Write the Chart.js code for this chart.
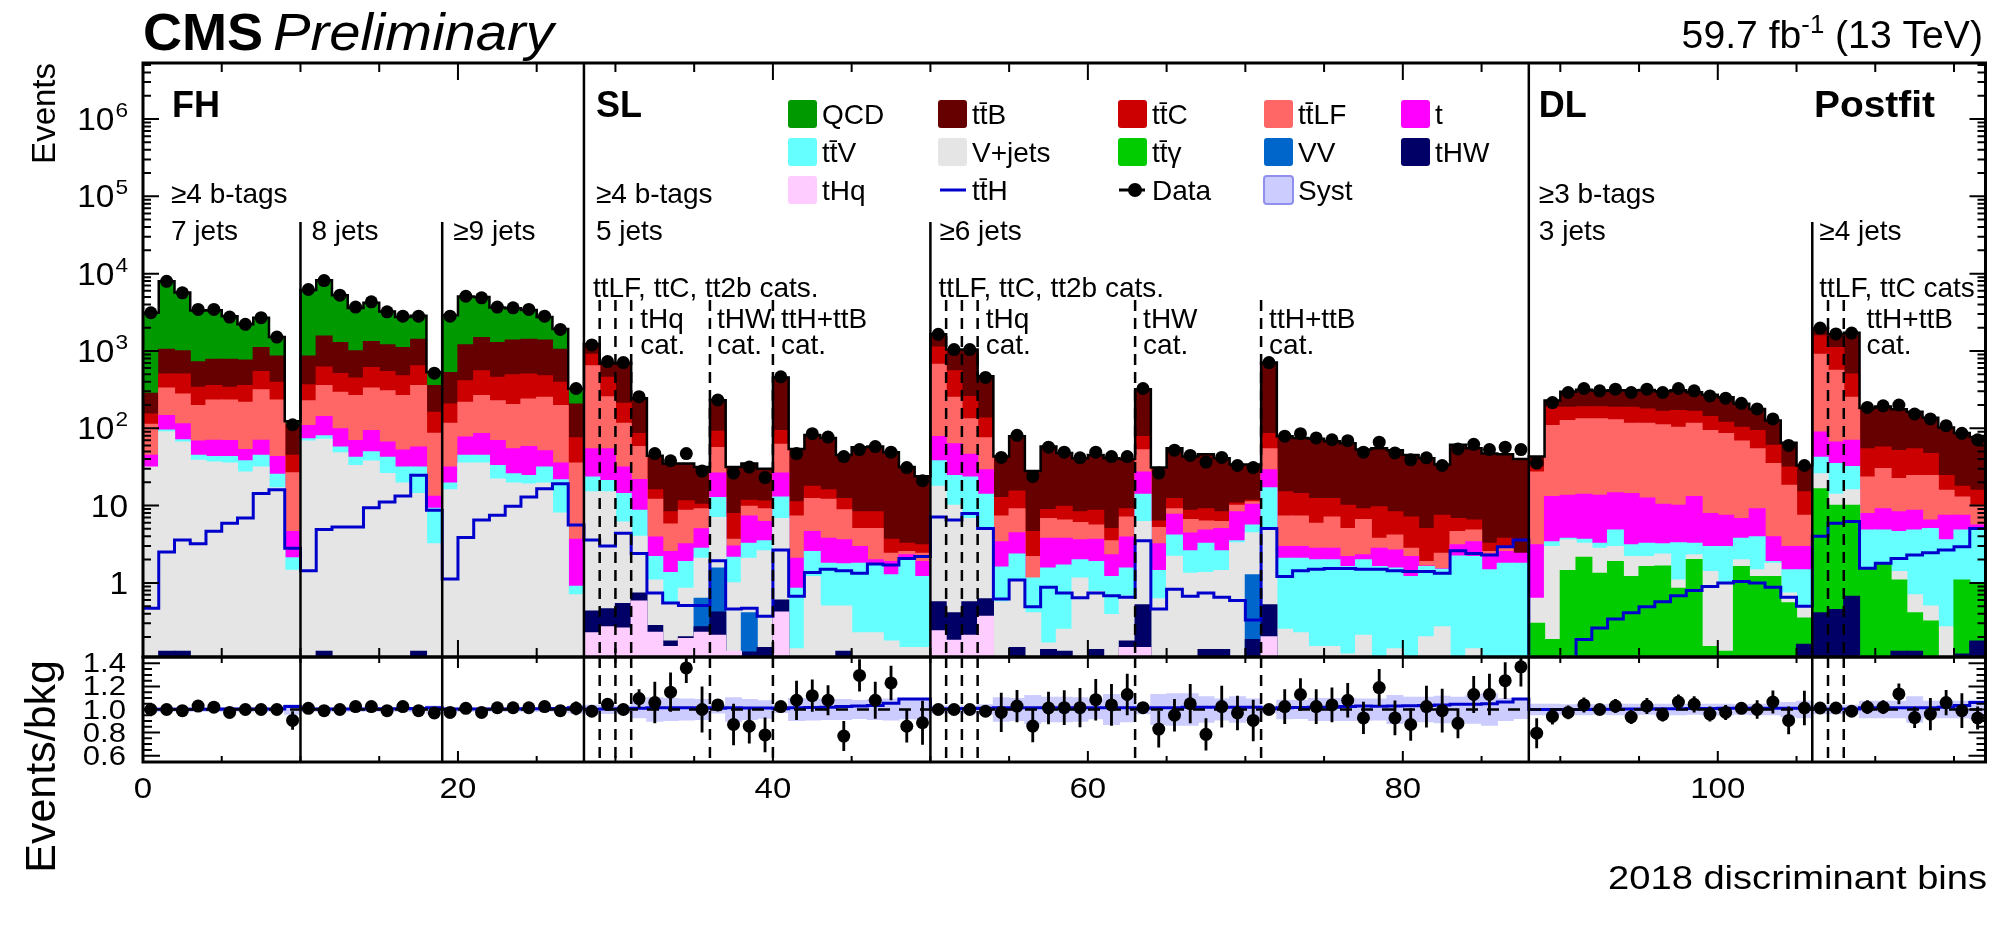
<!DOCTYPE html>
<html>
<head>
<meta charset="utf-8">
<title>2018 discriminant bins - postfit</title>
<script src="https://cdn.jsdelivr.net/npm/chart.js@4.4.1/dist/chart.umd.min.js"></script>
<style>
  html, body { margin: 0; background: #fff; }
  #wrap { position: relative; width: 1992px; height: 934px; }
  #wrap canvas { position: absolute; left: 0; top: 0; }
</style>
</head>
<body>
<div id="wrap">
  <canvas id="mainChart" width="1992" height="934"></canvas>
  <canvas id="ratioChart" width="1992" height="934"></canvas>
</div>
<script>
// ---------------- data ----------------
// bins: FH 0-27 | SL 5j 28-49 | SL >=6j 50-70 | SL >=6j ttH+ttB 71-87 | DL 3j 88-105 | DL >=4j 106-116
const NB = 117;
const bins = Array.from({ length: NB }, (_, i) => String(i));

// cumulative stack heights (top edge of each process in the stack)
const topTHq = [
  0,0,0,0,0,0,0,0,0,0, 0,0,0,0,0,0,0,0,0, 0,0,0,0,0,0,0,0,0,
  0.225,0.27,0.26,0.58,0.23,0.15,0.19,0.23,0.21,0.13,0,0,0.42,0,0,0,0,0,0,0,0,0,
  0.24,0.18,0.21,0.37,0,0,0,0,0,0,0,0,0.145,0.145,0,0,0,0,0,0,0,
  0.2,0,0,0,0,0,0,0,0,0,0,0,0,0,0,0,0,
  0,0,0,0,0,0,0,0,0,0,0,0,0,0,0,0,0,0,
  0,0,0,0,0,0,0,0,0,0,0
];
const topTHW = [
  0,0.13,0.13,0,0,0,0,0,0,0, 0,0.13,0,0,0,0,0,0.13,0, 0,0,0,0,0,0,0,0,0,
  0.43,0.46,0.54,0.74,0.28,0.176,0.2,0.27,0.42,0,0.127,0.145,0.6,0,0,0,0.13,0,0,0,0,0,
  0.57,0.41,0.57,0.62,0,0.145,0,0.137,0.13,0,0.137,0,0.176,0.52,0,0,0,0.137,0.137,0,0.185,
  0.52,0,0,0,0,0,0,0,0,0,0,0,0,0,0,0,0,
  0,0,0,0,0,0,0,0,0,0,0,0,0,0,0,0,0,0.16,
  0.41,0.45,0.67,0,0,0.13,0.13,0,0,0.12,0.176
];
const topVV = [
  0,0,0,0,0,0,0,0,0,0, 0,0,0,0,0,0,0,0,0, 0,0,0,0,0,0,0,0,0,
  0,0,0,0,0,0,0,0.63,1.55,0,0.41,0,0,0,0,0,0,0,0,0,0,0,
  0,0,0,0,0,0,0,0,0,0,0,0,0,0,0,0,0,0,0,0,1.27,
  0,0,0,0,0,0,0,0,0,0,0,0,0,0,0,0,0,
  0,0,0,0,0,0,0,0,0,0,0,0,0,0,0,0,0,0,
  0,0,0,0,0,0,0,0,0,0,0
];
const topTTG = [
  0,0,0,0,0,0,0,0,0,0, 0,0,0,0,0,0,0,0,0, 0,0,0,0,0,0,0,0,0,
  0,0,0,0,0,0,0,0,0,0,0,0,0,0,0,0,0,0,0,0,0,0,
  0,0,0,0,0,0,0,0,0,0,0,0,0,0,0,0,0,0,0,0,0,
  0,0,0,0,0,0,0,0,0,0,0,0,0,0,0,0,0,
  0.3,0.185,1.44,2.14,1.33,1.88,1.21,1.62,1.65,0.85,2.0,0.15,0.13,1.62,1.21,1.21,0.55,0.35,
  16.5,10.1,10.1,1.55,1.79,1.09,0.41,0.32,0,1.09,1.0
];
const topVJets = [
  31.5,90,66,38.5,36.5,35.5,27,31.5,17,1.45, 68,72,48,33,37.5,26,19.5,14.3,3.2, 16,35.5,35.5,22,19.5,19,19.5,8,0.7,
  15,15,6.1,4.0,1.09,0.55,0.85,2.07,7.0,1.0,2.07,2.6,6.8,0.14,1.21,0.5,0.5,0.225,0.225,0.176,0.145,0.145,
  17.7,10.1,6.8,5.05,0.57,1.09,0.41,0.167,0.25,1.15,0.77,0.39,0.67,6.2,0.62,2.2,1.33,1.36,1.44,3.3,4.45,
  5.05,0.25,0.225,0.15,0.15,0.12,0.21,0,0.14,0,0.2,0.27,0,0.14,0,0,0,
  0.63,2.94,3.6,3.24,2.8,2.94,2.18,2.18,2.36,1.09,2.3,1.4,1.0,1.98,1.47,1.79,0.74,0.5,
  25.8,14,16,0,0,1.4,0.7,0.5,0.27,0,0
];
const topTTV = [
  0,95,71,44.5,43,43,38,44.5,25.3,2.1, 73,80,57,42,49.5,42,31.5,31.5,9.2, 19.5,44.5,44.5,33,25.8,24.5,31.5,21.5,0.9,
  23.4,21,14.3,8.7,2.18,1.36,1.88,2.8,12.7,2.14,3.24,3.5,12.9,0.85,2.53,1.79,1.76,1.79,1.7,1.27,2.07,1.21,
  38,24.5,23.4,14,1.6,2.36,1.15,1.55,1.7,1.98,1.88,1.21,1.55,14,1.44,4.15,2.6,3.24,2.6,3.5,5.6,
  17,2.07,2.07,1.98,1.98,1.62,1.98,1.62,1.55,1.21,1.62,1.5,2.22,2.18,1.47,1.79,1.79,
  0,3.4,3.76,3.65,3.24,4.8,3.1,3.24,3.2,3.3,3.24,2.94,2.94,3.76,3.95,1.88,1.47,1.47,
  42,35,32,4.8,4.8,4.6,4.8,5.05,3.6,4.8,5.05
];
const topT = [
  44.5,146,114,68,70,69,53,70,43,4.6, 108,141,98,69,93,66,52,57,13.2, 31.5,77,85,69,54,58,51,35.5,3.65,
  54,54,31.5,21.6,3.9,2.53,3.2,5.0,26.3,3.0,7.3,6.2,26.3,2.07,4.6,3.76,3.6,2.94,1.98,1.88,2.3,1.88,
  78,63,46,29,3.4,4.45,0,3.76,3.76,3.6,3.65,2.3,3.9,27,3.2,7.7,4.4,4.8,5.05,8.3,10.4,
  29,2.94,2.94,2.8,2.8,2.18,2.3,2.8,2.66,2.18,1.65,1.52,3.1,3.4,2.36,2.53,2.41,
  3.1,13.1,13.6,14,13.6,14.6,14.3,12.5,10.4,10.1,13.1,7.9,7.5,6.8,9.1,3.95,2.94,2.94,
  89,66,70,7.9,9.1,8.3,8.7,6.5,7.5,7.5,5.6
];
const topTTLF = [
  112,330,277,196,232,232,216,314,232,26.5, 227,355,291,264,330,305,264,355,86, 116,216,264,227,202,239,251,196,35.5,
  640,255,116,58,12,5.75,8.7,9.1,56,3.65,9.8,9.1,62,7.3,12.3,12,8.8,5.05,5.05,2.41,2.53,2.41,
  673,251,132,75,7.3,9.1,2.18,6.8,6.5,6.0,5.6,3.5,7.1,52.5,5.2,9.1,6.6,6.3,6.2,10.1,11.2,
  54,7.3,7.3,5.9,7.1,5.05,6.6,3.76,4.15,2.8,1.88,2.41,4.6,4.8,2.53,2.94,0,
  27,108,126,132,132,128,116,116,111,103,116,93,85,68,54,35,18.3,7.5,
  906,563,251,23.4,30,22.3,24.5,24.5,15.7,12.9,10.1
];
const topTTC = [
  153,500,500,337,355,337,355,542,392,44.5, 365,620,510,445,610,542,477,640,161, 206,411,552,454,490,500,477,392,75,
  906,454,210,85,16,8.3,11.5,10.4,91,7.9,11.7,11.4,93,11.2,17.7,16,12.3,8.3,8.3,3.65,3.24,3.1,
  1120,552,256,135,12.7,15.4,4.6,8.9,9.8,8.3,8.7,5.05,9.1,78,6.3,12.3,8.7,9.1,8.3,10.8,11.7,
  85,15,14.3,12.3,12.3,10.1,9.1,9.6,8.3,7.1,5.05,7.5,6.8,6.5,3.24,3.76,0,
  31.5,186,186,189,189,186,186,177,166,169,166,141,119,103,93,60,31.5,15,
  1570,1105,500,54,57,51.5,54,47,24.5,17.7,15.7
];
const topTTB = [
  282,1050,1000,720,780,780,760,1105,860,112, 860,1560,1280,1000,1320,1200,1105,1410,355, 525,1200,1485,1280,1380,1410,1380,1050,206,
  1230,700,700,245,44,35,35,31.5,230,31.5,35,30,455,54,82,75,45,57,58,49,31.5,24,
  1650,1040,1040,470,43,79,28,58,48,41,45,41,40,320,31,55,43,46,41,34,34,
  708,79,75,73,68,64,53,55,52,45,41,34,61,55,47,46,40,
  43,228,297,314,305,310,310,312,300,310,292,272,252,208,178,126,65,33,
  1950,1640,1720,183,191,176,164,137,102,87,77
];
const topQCD = [
  3120,7960,5700,3340,3370,2810,2210,2690,1510,123, 6160,8210,5260,3600,4210,3240,2750,2850,532, 2890,5050,4990,3640,3560,3390,2750,1920,324,
  0,0,0,0,0,0,0,0,0,0,0,0,0,0,0,0,0,0,0,0,0,0,
  0,0,0,0,0,0,0,0,0,0,0,0,0,0,0,0,0,0,0,0,0,
  0,0,0,0,0,0,0,0,0,0,0,0,0,0,0,0,0,
  0,0,0,0,0,0,0,0,0,0,0,0,0,0,0,0,0,0,
  0,0,0,0,0,0,0,0,0,0,0
];
const ttHSignal = [
  0.47,2.5,3.6,3.2,4.65,5.9,6.9,14.3,16,2.8, 1.44,4.9,5.3,5.3,9.4,11.1,13.3,24.6,8.7, 1.12,3.87,6.5,7.5,9.8,12.9,16.5,19.2,5.6,
  3.6,3.0,4.4,2.4,0.74,0.55,0.51,0.51,1.94,0.46,0.47,0.37,2.66,0.67,1.36,1.5,1.44,1.33,1.76,1.7,2.07,2.2,
  7.1,6.5,7.9,5.05,0.62,1.09,0.49,0.88,0.74,0.64,0.74,0.68,0.65,3.5,0.46,0.83,0.67,0.74,0.65,0.59,0.33,
  5.05,1.21,1.44,1.5,1.54,1.54,1.5,1.5,1.44,1.4,1.4,1.33,2.6,2.4,2.3,2.94,3.6,
  0.05,0.05,0.05,0.185,0.26,0.34,0.41,0.49,0.57,0.68,0.8,0.9,1.0,1.04,1.0,0.88,0.65,0.5,
  4.0,5.9,6.2,1.55,1.79,2.07,2.3,2.45,2.66,2.94,5.05
];
const dataCounts = [
  3120,7960,5640,3440,3440,2740,2210,2690,1510,111, 6230,8130,5260,3690,4320,3210,2820,2820,516, 2820,5100,4860,3690,3610,3440,2820,1900,327,
  1195,729,708,256,47,38,47,27.9,232,26.3,31.5,23,463,47,85,77,43,53,58,49,31,21,
  1640,1040,1040,454,42,81,23.8,57,49,41.5,49,43,43,327,26.3,52,44.5,36.5,42,33,31,
  708,79,85,75,71,69,49,66,48,39,41.5,33,54,62,53,57,53,
  35.5,215,290,327,305,320,290,320,290,327,305,262,245,210,178,132,60,33,
  1975,1660,1700,186,195,200,153,132,108,86,71
];

// ratio panel
const ratioVals = [
  1.0,1.0,0.99,1.03,1.02,0.975,1.0,1.0,1.0,0.905, 1.01,0.99,1.0,1.025,1.025,0.99,1.025,0.99,0.97, 0.975,1.01,0.975,1.015,1.015,1.015,1.025,0.99,1.01,
  0.985,1.045,1.0,1.095,1.06,1.15,1.36,1.0,1.04,0.87,0.855,0.78,1.025,1.08,1.12,1.08,0.77,1.295,1.08,1.23,0.855,0.885,
  1.0,1.0,1.0,0.985,0.975,1.03,0.856,1.013,1.016,1.016,1.085,1.04,1.13,1.016,0.83,0.95,1.05,0.785,1.025,0.97,0.905,
  1.0,1.025,1.13,1.025,1.04,1.08,0.927,1.19,0.927,0.87,1.025,0.99,0.88,1.13,1.13,1.25,1.37,
  0.795,0.94,0.975,1.04,1.0,1.03,0.935,1.03,0.955,1.065,1.045,0.96,0.975,1.01,1.0,1.065,0.905,1.013,
  1.013,1.013,0.985,1.02,1.02,1.135,0.93,0.96,1.06,0.99,0.927
];
const ratioErr = [
  0.02,0.015,0.02,0.02,0.02,0.02,0.02,0.02,0.025,0.08, 0.02,0.015,0.02,0.02,0.02,0.02,0.025,0.025,0.05, 0.02,0.02,0.02,0.02,0.02,0.02,0.025,0.03,0.06,
  0.03,0.04,0.04,0.08,0.18,0.17,0.13,0.2,0.04,0.18,0.15,0.15,0.03,0.17,0.14,0.13,0.13,0.14,0.16,0.15,0.14,0.19,
  0.025,0.03,0.03,0.05,0.17,0.14,0.14,0.14,0.15,0.17,0.18,0.18,0.18,0.05,0.16,0.14,0.17,0.14,0.18,0.15,0.18,
  0.03,0.15,0.14,0.15,0.15,0.15,0.14,0.16,0.15,0.14,0.18,0.19,0.13,0.16,0.18,0.16,0.17,
  0.13,0.07,0.06,0.065,0.045,0.06,0.06,0.07,0.06,0.065,0.07,0.065,0.065,0.05,0.08,0.1,0.12,0.15,
  0.04,0.04,0.04,0.06,0.06,0.09,0.09,0.14,0.11,0.15,0.1
];
const systHalf = [
  0.015,0.015,0.015,0.015,0.015,0.015,0.015,0.015,0.015,0.04, 0.015,0.015,0.015,0.015,0.015,0.015,0.015,0.015,0.03, 0.015,0.015,0.015,0.015,0.015,0.015,0.015,0.015,0.03,
  0.035,0.033,0.03,0.07,0.1,0.095,0.09,0.085,0.03,0.1,0.085,0.075,0.025,0.095,0.09,0.085,0.085,0.078,0.085,0.09,0.08,0.082,
  0.03,0.03,0.03,0.04,0.1,0.095,0.12,0.105,0.105,0.1,0.08,0.13,0.105,0.035,0.13,0.135,0.135,0.11,0.09,0.11,0.09,
  0.03,0.08,0.078,0.095,0.094,0.094,0.09,0.09,0.12,0.105,0.106,0.114,0.106,0.118,0.135,0.094,0.078,
  0.045,0.045,0.04,0.045,0.04,0.045,0.045,0.04,0.045,0.045,0.04,0.045,0.045,0.04,0.045,0.045,0.06,0.07,
  0.036,0.036,0.036,0.07,0.07,0.07,0.11,0.07,0.07,0.07,0.08
];
const ratioSignal = [
  1.003,1.003,1.003,1.003,1.003,1.004,1.004,1.005,1.005,1.025, 1.004,1.004,1.005,1.005,1.005,1.006,1.006,1.008,1.015, 1.004,1.004,1.005,1.005,1.005,1.006,1.006,1.008,1.015,
  1.003,1.004,1.006,1.01,1.015,1.015,1.015,1.015,1.01,1.015,1.013,1.012,1.006,1.015,1.018,1.02,1.025,1.03,1.035,1.055,1.09,1.09,
  1.005,1.006,1.008,1.01,1.015,1.015,1.015,1.015,1.015,1.015,1.015,1.015,1.015,1.01,1.015,1.015,1.02,1.02,1.02,1.02,1.02,
  1.007,1.015,1.018,1.02,1.02,1.025,1.03,1.028,1.03,1.032,1.035,1.04,1.045,1.045,1.05,1.065,1.09,
  1.0,1.0,1.0,1.0,1.002,1.003,1.004,1.005,1.006,1.007,1.008,1.009,1.01,1.01,1.01,1.01,1.01,1.01,
  1.005,1.005,1.005,1.015,1.015,1.015,1.015,1.015,1.02,1.035,1.06
];
const refRatio = 1.0;

// category boundaries (in bins)
const regionEdges = [28, 88];
const jetEdges = [10, 19, 50, 106];
const catEdges = [29, 30, 31, 36, 40, 51, 52, 53, 63, 71, 107, 108];

// tick labels
const mainYExp = [0, 1, 2, 3, 4, 5, 6];
const ratioYLabels = ['0.6', '0.8', '1.0', '1.2', '1.4'];
const xTickLabels = ['0', '20', '40', '60', '80', '100'];

// ---------------- style / layout ----------------
const colors = {
  QCD: '#009900', ttB: '#660000', ttC: '#cc0000', ttLF: '#ff6666', t: '#ff00ff',
  ttV: '#66ffff', VJets: '#e5e5e5', ttG: '#00cc00', VV: '#0066cc', tHW: '#000066',
  tHq: '#ffccff', ttH: '#0000cc', syst: '#ccccff'
};
const W = 1992, H = 934, L = 143, R = 1987, TOP = 63, MID = 657, BOT = 762;
const Y_MIN = 0.11, Y_MAX = 5.3e6, R_MIN = 0.545, R_MAX = 1.455;
const FONT = '"Liberation Sans", Arial, sans-serif';
Chart.defaults.font.family = FONT;

const layers = [
  { label: 'tHq', top: topTHq, color: colors.tHq },
  { label: 'tHW', top: topTHW, color: colors.tHW },
  { label: 'VV', top: topVV, color: colors.VV },
  { label: 'ttgamma', top: topTTG, color: colors.ttG },
  { label: 'V+jets', top: topVJets, color: colors.VJets },
  { label: 'ttV', top: topTTV, color: colors.ttV },
  { label: 't', top: topT, color: colors.t },
  { label: 'ttLF', top: topTTLF, color: colors.ttLF },
  { label: 'ttC', top: topTTC, color: colors.ttC },
  { label: 'ttB', top: topTTB, color: colors.ttB },
  { label: 'QCD', top: topQCD, color: colors.QCD }
];

const steps = arr => arr.map((v, i) => ({ x: i, y: v })).concat([{ x: NB, y: arr[NB - 1] }]);
const centers = arr => arr.map((v, i) => ({ x: i + 0.5, y: v }));
const stackTop = topQCD.map((v, i) => Math.max(v, topTTB[i]));

// ---------------- drawing helpers ----------------
function txt(ctx, s, x, y, font, align = 'left', sx = 1) {
  ctx.save();
  ctx.font = font;
  ctx.fillStyle = '#000';
  ctx.textAlign = align;
  ctx.textBaseline = 'alphabetic';
  ctx.translate(x, y);
  ctx.scale(sx, 1);
  ctx.fillText(s, 0, 0);
  ctx.restore();
}
function txtWidth(ctx, s, font, sx = 1) {
  ctx.save(); ctx.font = font; const w = ctx.measureText(s).width * sx; ctx.restore();
  return w;
}
function vtxt(ctx, s, x, y, font) {
  ctx.save();
  ctx.translate(x, y);
  ctx.rotate(-Math.PI / 2);
  ctx.font = font;
  ctx.fillStyle = '#000';
  ctx.textAlign = 'right';
  ctx.fillText(s, 0, 0);
  ctx.restore();
}
function vline(ctx, x, y0, y1) {
  ctx.beginPath(); ctx.moveTo(x, y0); ctx.lineTo(x, y1); ctx.stroke();
}
function drawAxes(ctx, a, xs, ys, yTicks, xLen) {
  ctx.save();
  ctx.strokeStyle = '#000';
  ctx.lineWidth = 2;
  ctx.beginPath();
  for (let b = 0; b <= NB; b += 5) {
    const x = xs.getPixelForValue(b);
    const len = b % 20 === 0 ? xLen[0] : xLen[1];
    ctx.moveTo(x, a.bottom); ctx.lineTo(x, a.bottom - len);
    ctx.moveTo(x, a.top); ctx.lineTo(x, a.top + len);
  }
  yTicks.forEach(t => {
    const y = ys.getPixelForValue(t.v);
    ctx.moveTo(a.left, y); ctx.lineTo(a.left + t.len, y);
    ctx.moveTo(a.right, y); ctx.lineTo(a.right - t.len, y);
  });
  ctx.stroke();
  ctx.lineWidth = 3;
  ctx.strokeRect(a.left, a.top, a.right - a.left, a.bottom - a.top);
  ctx.restore();
}
function drawSeparators(ctx, a, xs, jetTop, catTop) {
  ctx.save();
  ctx.strokeStyle = '#000';
  ctx.lineWidth = 2.5;
  regionEdges.forEach(b => vline(ctx, xs.getPixelForValue(b), a.top, a.bottom));
  jetEdges.forEach(b => vline(ctx, xs.getPixelForValue(b), jetTop, a.bottom));
  ctx.setLineDash([11, 7]);
  catEdges.forEach(b => vline(ctx, xs.getPixelForValue(b), catTop, a.bottom));
  ctx.restore();
}

const mainTicks = [];
for (let k = -1; k <= 6; k++) {
  for (let m = 1; m <= 9; m++) {
    const v = m * Math.pow(10, k);
    if (v >= Y_MIN && v <= Y_MAX) mainTicks.push({ v, len: m === 1 ? 16 : 8 });
  }
}
const ratioTicks = [];
for (let j = 0; j <= 16; j++) ratioTicks.push({ v: 0.6 + 0.05 * j, len: j % 4 === 0 ? 17 : 9 });

// annotation text: [text, bin edge, dx, baseline y, bold]
const notes = [
  ['FH', 0, 29, 117, true], ['SL', 28, 12, 117, true], ['DL', 88, 10, 117, true],
  ['≥4 b-tags', 0, 28, 203], ['7 jets', 0, 28, 240], ['8 jets', 10, 11, 240], ['≥9 jets', 19, 11, 240],
  ['≥4 b-tags', 28, 12, 203], ['5 jets', 28, 12, 240], ['ttLF, ttC, tt2b cats.', 28, 9, 297],
  ['tHq', 31, 9, 328], ['cat.', 31, 9, 354], ['tHW', 36, 7, 328], ['cat.', 36, 7, 354],
  ['ttH+ttB', 40, 8, 328], ['cat.', 40, 8, 354],
  ['≥6 jets', 50, 9, 240], ['ttLF, ttC, tt2b cats.', 50, 8, 297], ['tHq', 53, 8, 328], ['cat.', 53, 8, 354],
  ['tHW', 63, 8, 328], ['cat.', 63, 8, 354], ['ttH+ttB', 71, 8, 328], ['cat.', 71, 8, 354],
  ['≥3 b-tags', 88, 10, 203], ['3 jets', 88, 10, 240], ['≥4 jets', 106, 7, 240], ['ttLF, ttC cats', 106, 7, 297],
  ['ttH+ttB', 109, 7, 328], ['cat.', 109, 7, 354]
];

const legendEntries = [
  ['QCD', 'QCD', 'box'], ['tt\u0304B', 'ttB', 'box'], ['tt\u0304C', 'ttC', 'box'], ['tt\u0304LF', 'ttLF', 'box'], ['t', 't', 'box'],
  ['tt\u0304V', 'ttV', 'box'], ['V+jets', 'VJets', 'box'], ['tt\u0304\u03b3', 'ttG', 'box'], ['VV', 'VV', 'box'], ['tHW', 'tHW', 'box'],
  ['tHq', 'tHq', 'box'], ['tt\u0304H', 'ttH', 'line'], ['Data', 'data', 'marker'], ['Syst', 'syst', 'band']
];
const LEG_X = [788, 938, 1118, 1264, 1401], LEG_Y = [114, 152, 190];

function drawLegend(ctx) {
  ctx.save();
  legendEntries.forEach((e, k) => {
    const x = LEG_X[k % 5], y = LEG_Y[Math.floor(k / 5)];
    const [label, key, kind] = e;
    if (kind === 'box' || kind === 'band') {
      ctx.fillStyle = colors[key];
      ctx.beginPath();
      ctx.roundRect(x, y - 14, 29, 28, 3);
      ctx.fill();
      if (kind === 'band') { ctx.strokeStyle = '#8f8fee'; ctx.lineWidth = 2; ctx.stroke(); }
    } else if (kind === 'line') {
      ctx.strokeStyle = colors.ttH; ctx.lineWidth = 3;
      ctx.beginPath(); ctx.moveTo(x + 2, y); ctx.lineTo(x + 28, y); ctx.stroke();
    } else {
      ctx.strokeStyle = '#000'; ctx.lineWidth = 3;
      ctx.beginPath(); ctx.moveTo(x + 1, y); ctx.lineTo(x + 27, y); ctx.stroke();
      ctx.fillStyle = '#000';
      ctx.beginPath(); ctx.arc(x + 17, y, 7, 0, Math.PI * 2); ctx.fill();
    }
    txt(ctx, label, x + 34, y + 10, '28px ' + FONT);
  });
  ctx.restore();
}

const mainDecor = {
  id: 'mainDecor',
  afterDatasetsDraw(chart) {
    const { ctx, chartArea: a, scales } = chart;
    const xs = scales.xl, ys = scales.y;
    drawSeparators(ctx, a, xs, 222, 300);
    drawAxes(ctx, a, xs, ys, mainTicks, [17, 9]);

    // y tick labels 1, 10, 10^2 ... 10^6
    const f = '31px ' + FONT, fs = '21px ' + FONT;
    mainYExp.forEach(e => {
      const y = ys.getPixelForValue(Math.pow(10, e)) + 11;
      if (e === 0) txt(ctx, '1', 128, y, f, 'right', 1.08);
      else if (e === 1) txt(ctx, '10', 128, y, f, 'right', 1.08);
      else {
        const ws = txtWidth(ctx, String(e), fs, 1.08);
        txt(ctx, String(e), 128, y - 13, fs, 'right', 1.08);
        txt(ctx, '10', 128 - ws - 1, y, f, 'right', 1.08);
      }
    });
    vtxt(ctx, 'Events', 55, 63, '33px ' + FONT);

    // header
    txt(ctx, 'CMS', 143, 50, 'bold 52px ' + FONT, 'left', 1.04);
    txt(ctx, 'Preliminary', 273, 50, 'italic 52px ' + FONT, 'left', 1.08);
    const lf = '38px ' + FONT, ls = '25px ' + FONT;
    const w1 = txtWidth(ctx, ' (13 TeV)', lf, 1.03);
    txt(ctx, ' (13 TeV)', 1983, 48, lf, 'right', 1.03);
    const w2 = txtWidth(ctx, '-1', ls, 1.03);
    txt(ctx, '-1', 1983 - w1, 33, ls, 'right', 1.03);
    txt(ctx, '59.7 fb', 1983 - w1 - w2, 48, lf, 'right', 1.03);

    // category labels
    notes.forEach(n => {
      const x = xs.getPixelForValue(n[1]) + n[2];
      txt(ctx, n[0], x, n[3], n[4] ? 'bold 36px ' + FONT : '28px ' + FONT);
    });
    txt(ctx, 'Postfit', 1935, 117, 'bold 36px ' + FONT, 'right', 1.08);
    drawLegend(ctx);
  }
};

const ratioDecor = {
  id: 'ratioDecor',
  afterDatasetsDraw(chart) {
    const { ctx, chartArea: a, scales } = chart;
    const xs = scales.xl, ys = scales.y;
    drawSeparators(ctx, a, xs, a.top, a.top);
    drawAxes(ctx, a, xs, ys, ratioTicks, [11, 6]);
    ratioYLabels.forEach(s => {
      txt(ctx, s, 126, ys.getPixelForValue(parseFloat(s)) + 9, '27px ' + FONT, 'right', 1.15);
    });
    xTickLabels.forEach(s => {
      txt(ctx, s, xs.getPixelForValue(parseFloat(s)), a.bottom + 36, '30px ' + FONT, 'center', 1.1);
    });
    txt(ctx, '2018 discriminant bins', R, 889, '34px ' + FONT, 'right', 1.12);
    vtxt(ctx, 'Events/bkg', 55, a.top + 3, '43px ' + FONT);
  }
};

// ---------------- main (stacked histogram, log scale) ----------------
const barSets = layers.map((l, k) => ({
  type: 'bar', label: l.label, data: l.top, backgroundColor: l.color,
  xAxisID: 'x', yAxisID: 'y', grouped: false,
  barPercentage: 1, categoryPercentage: 1, borderWidth: 0, inflateAmount: 0.6,
  order: 10 + k
}));

const binAxes = {
  x: { type: 'category', offset: true, display: false },
  xl: { type: 'linear', min: 0, max: NB, offset: false, bounds: 'ticks', grace: 0, display: false, grid: { offset: false } }
};

new Chart(document.getElementById('mainChart'), {
  type: 'bar',
  data: {
    labels: bins,
    datasets: [
      ...barSets,
      { type: 'line', label: 'stack', data: steps(stackTop), xAxisID: 'xl', yAxisID: 'y',
        stepped: 'before', borderColor: '#000', borderWidth: 2.5, pointRadius: 0, fill: false, order: 3 },
      { type: 'line', label: 'ttH', data: steps(ttHSignal), xAxisID: 'xl', yAxisID: 'y',
        stepped: 'before', borderColor: colors.ttH, borderWidth: 3, pointRadius: 0, fill: false, order: 2 },
      { type: 'line', label: 'Data', data: centers(dataCounts), xAxisID: 'xl', yAxisID: 'y',
        showLine: false, pointRadius: 6.5, pointBackgroundColor: '#000', pointBorderWidth: 0, order: 1 }
    ]
  },
  options: {
    responsive: false, animation: false, events: [],
    layout: { padding: { left: L, right: W - R, top: TOP, bottom: H - MID } },
    plugins: { legend: { display: false }, tooltip: { enabled: false } },
    scales: {
      ...binAxes,
      y: { type: 'logarithmic', min: Y_MIN, max: Y_MAX, display: false }
    }
  },
  plugins: [mainDecor]
});

// ---------------- ratio panel ----------------
new Chart(document.getElementById('ratioChart'), {
  type: 'bar',
  data: {
    labels: bins,
    datasets: [
      { type: 'bar', label: 'Syst', data: systHalf.map(e => [refRatio - e, refRatio + e]),
        backgroundColor: colors.syst, xAxisID: 'x', yAxisID: 'y', grouped: false,
        barPercentage: 1, categoryPercentage: 1, borderWidth: 0, inflateAmount: 0.6, order: 6 },
      { type: 'line', label: 'ttH/bkg', data: steps(ratioSignal), xAxisID: 'xl', yAxisID: 'y',
        stepped: 'before', borderColor: colors.ttH, borderWidth: 3, pointRadius: 0, fill: false, order: 5 },
      { type: 'line', label: 'unity', data: [{ x: 0, y: refRatio }, { x: NB, y: refRatio }], xAxisID: 'xl', yAxisID: 'y',
        borderColor: '#000', borderWidth: 2.5, borderDash: [12, 9], pointRadius: 0, fill: false, order: 4 },
      { type: 'bar', label: 'stat', data: ratioVals.map((r, i) => [r - ratioErr[i], r + ratioErr[i]]),
        backgroundColor: '#000', xAxisID: 'x', yAxisID: 'y', grouped: false,
        barPercentage: 0.18, categoryPercentage: 1, borderWidth: 0, order: 3 },
      { type: 'line', label: 'Data/bkg', data: centers(ratioVals), xAxisID: 'xl', yAxisID: 'y',
        showLine: false, pointRadius: 6.5, pointBackgroundColor: '#000', pointBorderWidth: 0, order: 1 }
    ]
  },
  options: {
    responsive: false, animation: false, events: [],
    layout: { padding: { left: L, right: W - R, top: MID, bottom: H - BOT } },
    plugins: { legend: { display: false }, tooltip: { enabled: false } },
    scales: {
      ...binAxes,
      y: { type: 'linear', min: R_MIN, max: R_MAX, display: false }
    }
  },
  plugins: [ratioDecor]
});
</script>
</body>
</html>
